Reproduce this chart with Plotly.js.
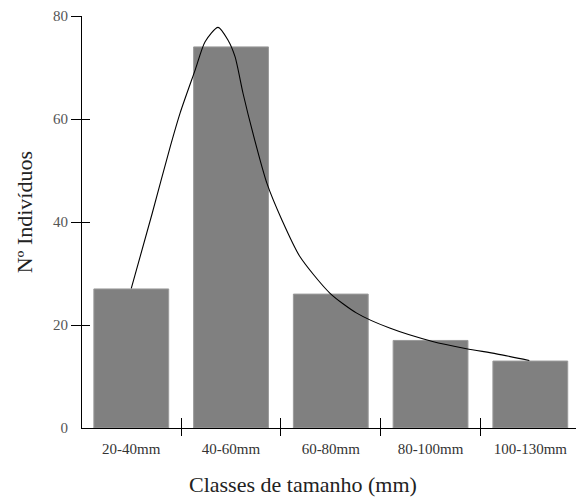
<!DOCTYPE html>
<html>
<head>
<meta charset="utf-8">
<script src="https://cdn.plot.ly/plotly-3.0.1.min.js"></script>
<style>html,body{margin:0;padding:0;background:#fff;}</style>
</head>
<body>
<div id="chart" style="width:576px;height:500px;"></div>
<script>
// Data
var categories = ["20-40mm", "40-60mm", "60-80mm", "80-100mm", "100-130mm"];
var counts = [27, 74, 26, 17, 13];
// fitted curve, x in category units
var curveX = [0, 0.21, 0.39, 0.49, 0.64, 0.74, 0.87, 0.97, 1.04, 1.12, 1.22, 1.36, 1.51, 1.69, 1.99, 2.26, 2.59, 3.02, 3.36, 3.66, 3.99];
var curveY = [27.1, 41.7, 54.6, 61.2, 69.5, 75, 77.8, 75.3, 72.1, 65, 57.2, 47.5, 40.4, 33.3, 26.2, 22.3, 19.4, 16.8, 15.4, 14.4, 13.1];
var yTickVals = [0, 20, 40, 60, 80];
var yTickMarks = [20, 40, 60, 80];
var boundaries = [0.5, 1.5, 2.5, 3.5];
var xTitle = "Classes de tamanho (mm)";
var yTitle = "Nº Indivíduos";

var positions = categories.map(function (c, i) { return i; });
var font = "Liberation Serif, Times New Roman, serif";
var xr = [-0.494, 4.458];

var traces = [
  {type: "bar", x: positions, y: counts, width: 0.75,
   marker: {color: "#808080", line: {color: "#9a9a9a", width: 1}}, hoverinfo: "none"},
  {type: "scatter", mode: "lines", x: curveX, y: curveY,
   line: {color: "#000", width: 1.1, shape: "spline", smoothing: 0.7}, hoverinfo: "none"},
  {type: "scatter", x: [], y: [], xaxis: "x2", yaxis: "y2"},
  {type: "scatter", x: [], y: [], xaxis: "x3", yaxis: "y3"}
];

var layout = {
  width: 576, height: 500,
  margin: {l: 82, r: 0, t: 16, b: 72},
  paper_bgcolor: "#fff", plot_bgcolor: "#fff",
  showlegend: false,
  font: {family: font, color: "#222"},
  xaxis: {range: xr, tickvals: positions, ticktext: categories,
          ticks: "outside", ticklen: 7, tickcolor: "rgba(0,0,0,0)",
          showline: true, linecolor: "#000", linewidth: 1, showgrid: false, zeroline: false,
          tickfont: {family: font, size: 15, color: "#333"}, fixedrange: true},
  xaxis2: {range: xr, overlaying: "x", anchor: "y", tickvals: boundaries, ticks: "outside",
           ticklen: 7, tickcolor: "#000", tickwidth: 1, showticklabels: false,
           showline: false, showgrid: false, zeroline: false},
  xaxis3: {range: xr, overlaying: "x", anchor: "y", tickvals: boundaries, ticks: "inside",
           ticklen: 10, tickcolor: "#000", tickwidth: 1, showticklabels: false,
           showline: false, showgrid: false, zeroline: false},
  yaxis: {range: [0, 80], tickvals: yTickVals, ticks: "outside", ticklen: 10,
          tickcolor: "rgba(0,0,0,0)", showline: true, linecolor: "#000", linewidth: 1,
          showgrid: false, zeroline: false,
          tickfont: {family: font, size: 15, color: "#555"}},
  yaxis2: {range: [0, 80], overlaying: "y", anchor: "x", side: "left", tickvals: yTickMarks,
           ticks: "outside", ticklen: 10, tickcolor: "#000", tickwidth: 1, showticklabels: false,
           showline: false, showgrid: false, zeroline: false},
  yaxis3: {range: [0, 80], overlaying: "y", anchor: "x", side: "left", tickvals: yTickMarks,
           ticks: "inside", ticklen: 8, tickcolor: "#000", tickwidth: 1, showticklabels: false,
           showline: false, showgrid: false, zeroline: false},
  annotations: [
    {text: xTitle, xref: "paper", yref: "paper", x: 0.447, y: -0.137, xanchor: "center", yanchor: "middle",
     showarrow: false, font: {family: font, size: 22, color: "#222"}},
    {text: yTitle, xref: "paper", yref: "paper", x: -0.117, y: 0.524, xanchor: "center", yanchor: "middle",
     textangle: -90, showarrow: false, font: {family: font, size: 22, color: "#222"}}
  ]
};

Plotly.newPlot("chart", traces, layout, {displayModeBar: false, staticPlot: true});
</script>
</body>
</html>
